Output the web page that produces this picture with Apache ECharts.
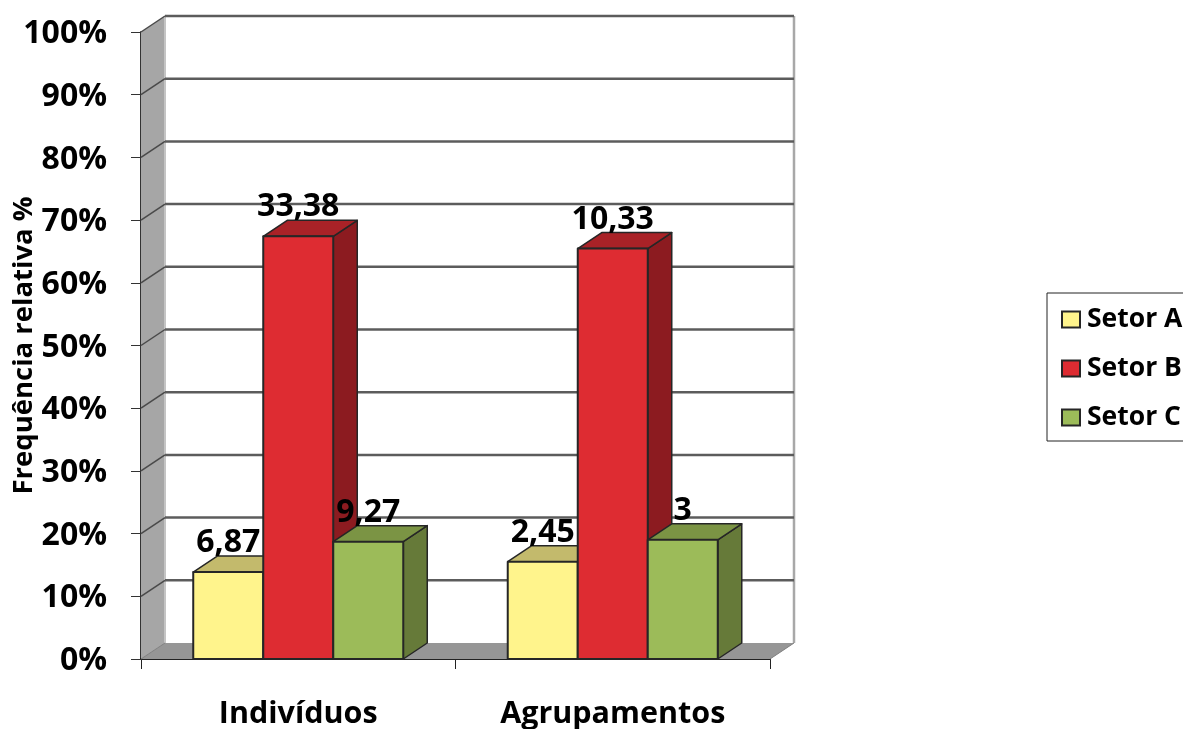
<!DOCTYPE html>
<html lang="pt">
<head>
<meta charset="utf-8">
<title>Frequência relativa por setor</title>
<style>html,body{margin:0;padding:0;background:#fff;overflow:hidden}#chart{width:1183px;height:729px}</style>
<script src="https://cdn.jsdelivr.net/npm/echarts@6/dist/echarts.min.js"></script>
</head>
<body>
<div id="chart"></div>
<script>
// Valores absolutos por setor; a altura de cada coluna é a parte do setor no total do grupo.
const categories = ['Indivíduos', 'Agrupamentos'];
const setorA = [6.87, 2.45];
const setorB = [33.38, 10.33];
const setorC = [9.27, 3];
const gridTicks = [0, 10, 20, 30, 40, 50, 60, 70, 80, 90, 100];

const FONT = '"Open Sans", sans-serif';
const DEPTH_X = 24, DEPTH_Y = 16;   // profundidade da projeção oblíqua
const BAR_RATIO = 0.2226;           // largura de cada coluna em relação à banda
const OUTLINE = '#262626';

const sectors = [
  { name: 'Setor A', values: setorA, front: '#FFF48C', top: '#C3BA6C', side: '#A9A25E' },
  { name: 'Setor B', values: setorB, front: '#DE2C32', top: '#A92227', side: '#8C1B20' },
  { name: 'Setor C', values: setorC, front: '#9CBB59', top: '#7B9444', side: '#667A39' }
];

const totals = categories.map((_, i) => sectors.reduce((s, k) => s + k.values[i], 0));
const fmt = v => String(v).replace('.', ',');

function poly(points, fill, stroke, lw) {
  return {
    type: 'polygon',
    shape: { points },
    style: { fill, stroke: stroke || null, lineWidth: lw || 0, lineJoin: 'round' }
  };
}
function seg(a, b, color, lw) {
  return {
    type: 'line',
    shape: { x1: a[0], y1: a[1], x2: b[0], y2: b[1] },
    style: { stroke: color, lineWidth: lw }
  };
}

// Paredes, piso e linhas de grade, desenhados atrás das colunas
function renderWalls(params, api) {
  if (params.dataIndex !== 0) return { type: 'group', children: [] };
  const band = api.size([1, 0])[0];
  const left = api.coord([0, 0])[0] - band / 2;
  const right = api.coord([categories.length - 1, 0])[0] + band / 2;
  const y0 = api.coord([0, 0])[1];
  const y100 = api.coord([0, 100])[1];
  const back = p => [p[0] + DEPTH_X, p[1] - DEPTH_Y];

  const children = [
    poly([back([left, y100]), back([right, y100]), back([right, y0]), back([left, y0])], '#ffffff'),
    poly([[left, y100], back([left, y100]), back([left, y0]), [left, y0]], '#A6A6A6'),
    poly([[left, y0], back([left, y0]), back([right, y0]), [right, y0]], '#969696'),
    seg(back([right, y100]), back([right, y0]), '#A8A8A8', 2.5),
    seg(back([left, y100]), back([left, y0]), '#C4C4C4', 2)
  ];
  gridTicks.forEach(t => {
    const y = api.coord([0, t])[1];
    if (t > 0) {
      children.push(seg([left, y], back([left, y]), '#4A4A4A', 1.5));
      children.push(seg(back([left, y]), back([right, y]), '#5C5C5C', 2.5));
    } else {
      children.push(seg([left, y], back([left, y]), '#7F7F7F', 1));
      children.push(seg([right, y], back([right, y]), '#7F7F7F', 1));
    }
  });
  return { type: 'group', children };
}

// Coluna em perspectiva: frente, topo, lateral e rótulo de valor
function renderBar(sectorIndex) {
  const s = sectors[sectorIndex];
  return function (params, api) {
    const cat = api.value(0);
    const share = api.value(1);
    const band = api.size([1, 0])[0];
    const w = band * BAR_RATIO;
    const cx = api.coord([cat, 0])[0] + (sectorIndex - 1) * w;
    const base = api.coord([cat, 0])[1];
    const top = api.coord([cat, share])[1];
    const x0 = cx - w / 2, x1 = cx + w / 2;
    const dx = DEPTH_X, dy = DEPTH_Y;
    return {
      type: 'group',
      children: [
        poly([[x1, top], [x1 + dx, top - dy], [x1 + dx, base - dy], [x1, base]], s.side, OUTLINE, 1.5),
        poly([[x0, top], [x0 + dx, top - dy], [x1 + dx, top - dy], [x1, top]], s.top, OUTLINE, 1.5),
        poly([[x0, top], [x1, top], [x1, base], [x0, base]], s.front, OUTLINE, 2),
        {
          type: 'text',
          z2: 100,
          style: {
            x: cx,
            y: top - 29,
            text: fmt(api.value(2)),
            fill: '#000',
            font: '700 32px ' + FONT,
            align: 'center',
            verticalAlign: 'middle'
          }
        }
      ]
    };
  };
}

const chart = echarts.init(document.getElementById('chart'), null, { renderer: 'canvas' });

chart.setOption({
  animation: false,
  backgroundColor: '#ffffff',
  grid: { left: 141, top: 32, width: 629, height: 627, containLabel: false, outerBoundsMode: 'none' },
  legend: {
    orient: 'vertical',
    left: 1047,
    top: 293,
    padding: [13, 30, 10, 14],
    itemWidth: 18,
    itemHeight: 16,
    itemGap: 22,
    icon: 'rect',
    borderColor: '#222',
    borderWidth: 1,
    backgroundColor: '#fff',
    data: sectors.map(s => s.name),
    textStyle: { fontFamily: FONT, fontWeight: 700, fontSize: 26.5, color: '#000', padding: [0, 0, 0, 2] }
  },
  xAxis: {
    type: 'category',
    data: categories,
    axisLine: { lineStyle: { color: '#222', width: 2 } },
    axisTick: { show: true, length: 10, alignWithLabel: false, lineStyle: { color: '#222', width: 1 } },
    axisLabel: { margin: 40, fontFamily: FONT, fontWeight: 700, fontSize: 30.5, color: '#000' },
    splitLine: { show: false }
  },
  yAxis: {
    type: 'value',
    min: 0,
    max: 100,
    interval: 10,
    name: 'Frequência relativa %',
    nameLocation: 'middle',
    nameGap: 117,
    nameMoveOverlap: false,
    nameRotate: 90,
    nameTextStyle: { fontFamily: FONT, fontWeight: 700, fontSize: 27.5, color: '#000', verticalAlign: 'middle' },
    axisLine: { show: true, lineStyle: { color: '#333', width: 2 } },
    axisTick: { show: true, length: 10, lineStyle: { color: '#333', width: 1 } },
    axisLabel: { margin: 34, verticalAlign: 'top', lineHeight: 4, formatter: '{value}%', fontFamily: FONT, fontWeight: 700, fontSize: 32, color: '#000' },
    splitLine: { show: false }
  },
  series: [
    {
      type: 'custom',
      name: 'Paredes',
      silent: true,
      z: 1,
      clip: false,
      renderItem: renderWalls,
      data: [[0, 0]],
      encode: { x: 0, y: 1 },
      tooltip: { show: false }
    }
  ].concat(sectors.map((s, i) => ({
    type: 'custom',
    name: s.name,
    z: 2,
    clip: false,
    itemStyle: { color: s.front, borderColor: OUTLINE, borderWidth: 2 },
    renderItem: renderBar(i),
    encode: { x: 0, y: 1 },
    data: categories.map((_, c) => [c, s.values[c] / totals[c] * 100, s.values[c]])
  })))
});
</script>
</body>
</html>
